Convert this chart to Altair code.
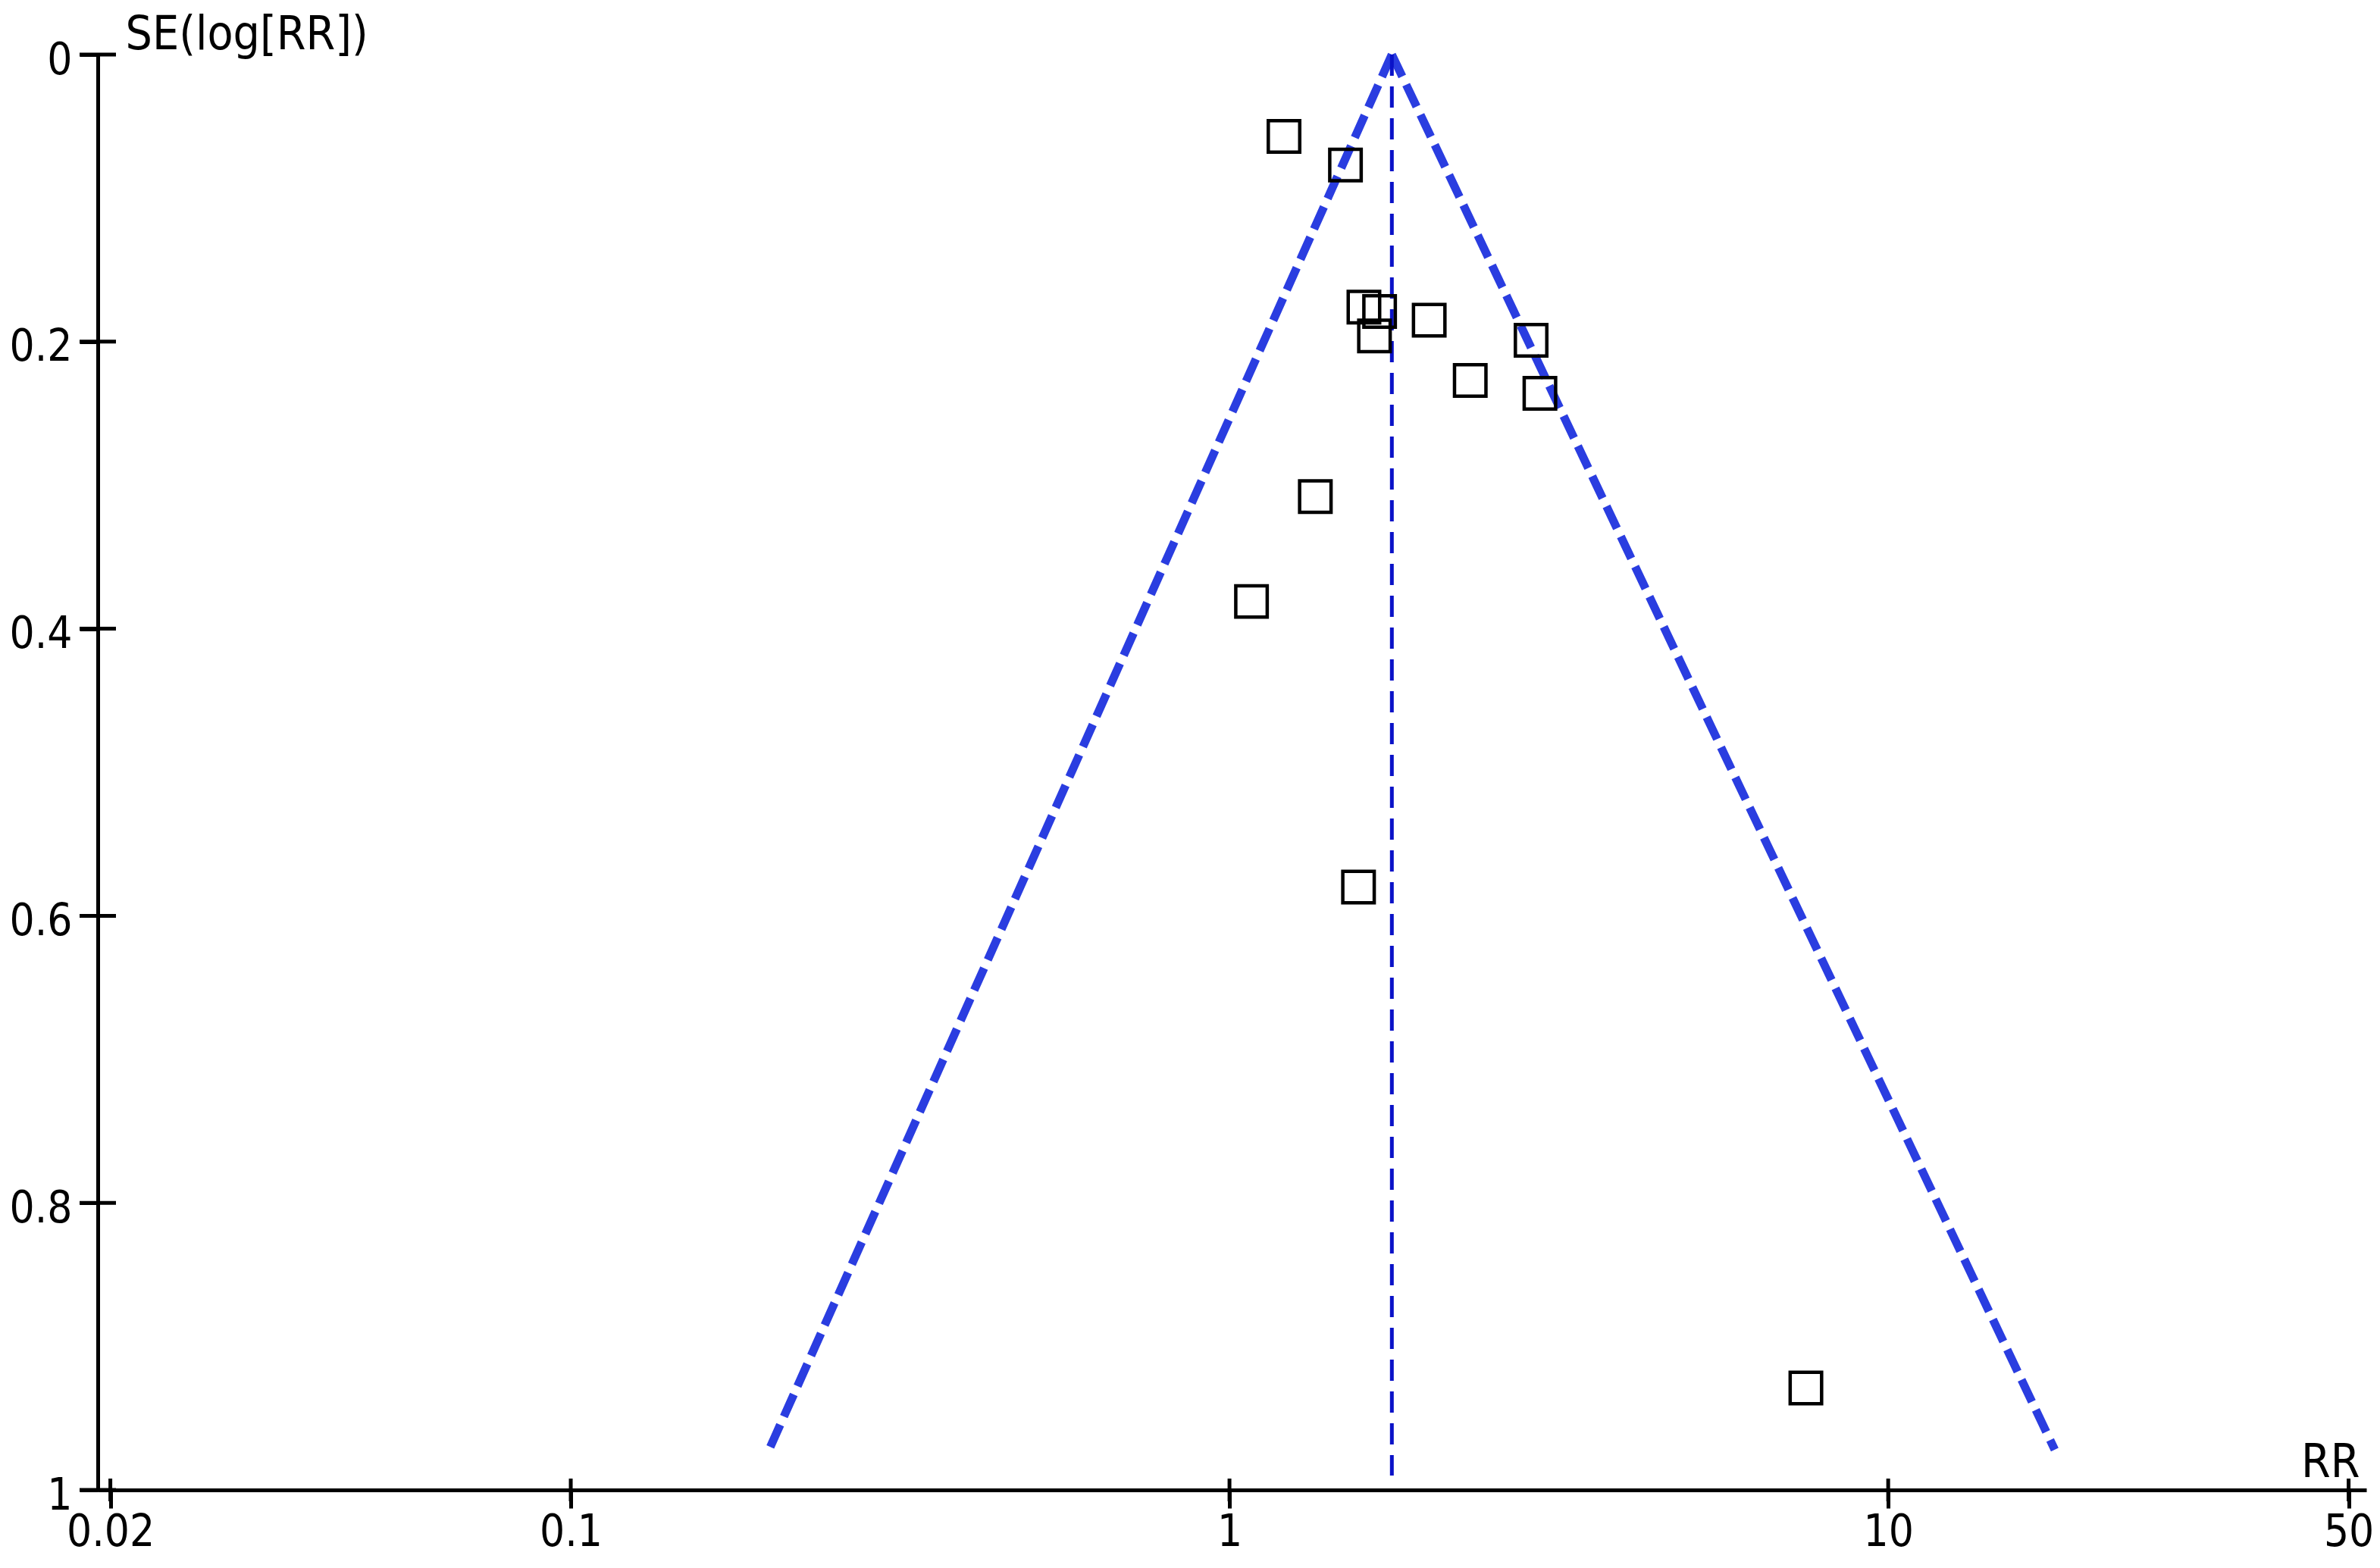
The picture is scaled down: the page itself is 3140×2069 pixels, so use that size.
import altair as alt
import pandas as pd

# ---- data ----
study_rr = [1.21, 1.50, 1.60, 1.69, 1.66, 2.01, 2.87, 2.32, 2.96, 1.35, 1.08, 1.57, 7.5]
study_se = [0.057, 0.077, 0.176, 0.179, 0.196, 0.185, 0.199, 0.227, 0.236, 0.308, 0.381, 0.580, 0.929]

pooled_rr = 1.764
funnel_se_max = 0.972
funnel_low_rr = 0.20
funnel_high_rr = 17.9
center_se_max = 0.99

x_ticks = [0.02, 0.1, 1, 10, 50]
y_ticks = [0, 0.2, 0.4, 0.6, 0.8, 1]
x_domain = [0.01914, 53.2]
y_domain = [0, 1]

FONT = "Liberation Sans Narrow, DejaVu Sans Condensed, Liberation Sans, sans-serif"
TITLE_FS = 62
XLAB_FS = 58
YLAB_FS = 58
FUNNEL_BLUE = "#2a3de0"
CENTER_BLUE = "#0a12c8"

W, H = 2993, 1894

points = pd.DataFrame({"rr": study_rr, "se": study_se})
funnel = pd.DataFrame({
    "x": [pooled_rr, pooled_rr],
    "x2": [funnel_low_rr, funnel_high_rr],
    "y": [0, 0],
    "y2": [funnel_se_max, funnel_se_max],
})
center = pd.DataFrame({"x": [pooled_rr], "y": [0], "y2": [center_se_max]})
xt = pd.DataFrame({"t": x_ticks})
yt = pd.DataFrame({"t": y_ticks})

xs = alt.Scale(type="log", domain=x_domain, nice=False)
ys = alt.Scale(domain=y_domain, reverse=True, nice=False, zero=False)

x_axis = alt.Axis(
    values=x_ticks, format="~g", grid=False,
    title="RR", titleX=2984, titleY=-18, titleAlign="right", titleBaseline="alphabetic",
    titleFont=FONT, titleFontSize=TITLE_FS, titleFontWeight="normal", titleColor="black",
    labelFont=FONT, labelFontSize=XLAB_FS, labelColor="black", labelFlush=False,
    labelOverlap=False, labelBound=False, labelBaseline="top", labelPadding=3,
    tickSize=24, tickWidth=5, tickColor="black", domainColor="black", domainWidth=5,
)
y_axis = alt.Axis(
    values=y_ticks, format="~g", grid=False,
    title="SE(log[RR])", titleAngle=0, titleX=36, titleY=-8, titleAlign="left",
    titleBaseline="alphabetic",
    titleFont=FONT, titleFontSize=TITLE_FS, titleFontWeight="normal", titleColor="black",
    labelFont=FONT, labelFontSize=YLAB_FS, labelColor="black", labelFlush=False,
    labelOverlap=False, labelBound=False, labelBaseline="middle", labelOffset=8,
    labelPadding=10, labelAlign="right",
    tickSize=24, tickWidth=5, tickColor="black", domainColor="black", domainWidth=5,
)

funnel_layer = alt.Chart(funnel).mark_rule(
    color=FUNNEL_BLUE, strokeWidth=11, strokeDash=[32, 12], strokeCap="butt"
).encode(
    x=alt.X("x:Q", scale=xs, axis=x_axis),
    x2="x2:Q",
    y=alt.Y("y:Q", scale=ys, axis=y_axis),
    y2="y2:Q",
)

center_layer = alt.Chart(center).mark_rule(
    color=CENTER_BLUE, strokeWidth=5, strokeDash=[28, 14], strokeCap="butt"
).encode(
    x=alt.X("x:Q", scale=xs),
    y=alt.Y("y:Q", scale=ys),
    y2="y2:Q",
)

point_layer = alt.Chart(points).mark_point(
    shape="square", filled=False, stroke="black", strokeWidth=4.5, size=1720, opacity=1
).encode(
    x=alt.X("rr:Q", scale=xs),
    y=alt.Y("se:Q", scale=ys),
)

# inner halves of the axis ticks (ticks cross the axis lines in the reference)
xtick_layer = alt.Chart(xt).mark_tick(
    orient="vertical", size=30, thickness=5, color="black", opacity=1
).encode(
    x=alt.X("t:Q", scale=xs),
    y=alt.datum(1.0),
)
ytick_layer = alt.Chart(yt).mark_tick(
    orient="horizontal", size=48, thickness=5, color="black", opacity=1
).encode(
    y=alt.Y("t:Q", scale=ys),
    x=alt.value(0),
)

chart = alt.layer(
    funnel_layer, center_layer, point_layer, xtick_layer, ytick_layer
).properties(
    width=W, height=H,
    autosize=alt.AutoSizeParams(type="none"),
    padding={"left": 121, "top": 64, "right": 10, "bottom": 88},
    background="white",
).configure_view(stroke=None)

chart.save("out.html", embed_options={"renderer": "svg", "actions": False})
